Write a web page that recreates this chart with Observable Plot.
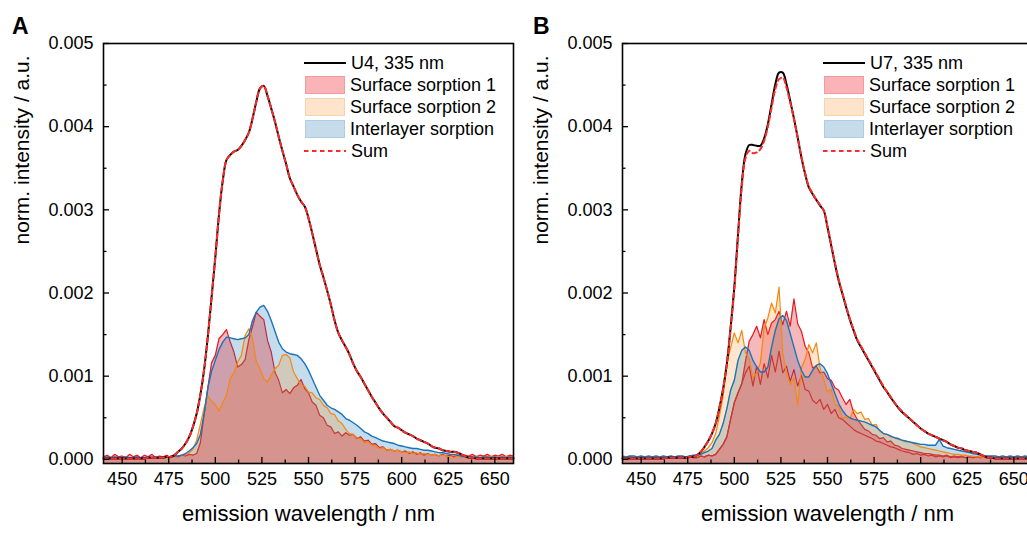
<!DOCTYPE html>
<html><head><meta charset="utf-8">
<script src="https://cdn.jsdelivr.net/npm/d3@7"></script>
<script src="https://cdn.jsdelivr.net/npm/@observablehq/plot@0.6"></script>
<style>
html,body{margin:0;padding:0;background:#fff;overflow:hidden;}
#root{position:relative;width:1027px;height:542px;overflow:hidden;font-family:"Liberation Sans",Arial,sans-serif;color:#000;}
.panel{position:absolute;top:0;width:520px;height:542px;}
.plabel{position:absolute;font-weight:bold;font-size:23px;top:13px;line-height:26px;}
.legend{position:absolute;left:302px;top:52px;font-size:18px;}
.row{position:absolute;left:0;height:22px;display:flex;align-items:center;white-space:nowrap;}
.row svg{margin-left:2px;margin-right:5px;}
.sw{width:40px;height:18px;margin-left:3px;margin-right:5px;box-sizing:border-box;}
</style>
</head><body><div id="root"></div>
<script>
// ---------------- data ----------------
const wl = d3.range(440, 661, 2); // wavelength grid, nm

const panelLabels = ["A", "B"];
const sampleNames = ["U4, 335 nm", "U7, 335 nm"];
const componentNames = ["Surface sorption 1", "Surface sorption 2", "Interlayer sorption", "Sum"];
const xTicks = [450, 475, 500, 525, 550, 575, 600, 625, 650];
const yTicks = [0, 0.001, 0.002, 0.003, 0.004, 0.005];
const xLabel = "emission wavelength / nm";
const yLabel = "norm. intensity / a.u.";

// Panel A
const measA = [
0.00001,0.00001,0.00001,0.00001,0.00001,
0.00001,0.00001,0.00001,0.00001,0.00001,
0.00001,0.00001,0.00002,0.00002,0.00002,
0.00002,0.00002,0.00003,0.00003,0.00005,
0.00009,0.00013,0.00019,0.00027,0.00039,
0.00055,0.00078,0.00108,0.00148,0.00195,
0.00243,0.00295,0.00335,0.00360,0.00366,
0.00370,0.00372,0.00377,0.00384,0.00393,
0.00410,0.00430,0.00446,0.00449,0.00437,
0.00422,0.00406,0.00388,0.00371,0.00355,
0.00338,0.00328,0.00318,0.00310,0.00304,
0.00290,0.00272,0.00253,0.00234,0.00219,
0.00203,0.00186,0.00167,0.00152,0.00143,
0.00135,0.00126,0.00115,0.00106,0.00099,
0.00091,0.00083,0.00075,0.00068,0.00061,
0.00055,0.00050,0.00045,0.00040,0.00038,
0.00035,0.00032,0.00030,0.00028,0.00025,
0.00023,0.00021,0.00019,0.00016,0.00014,
0.00013,0.00011,0.00010,0.00009,0.00009,
0.00008,0.00006,0.00004,0.00002,0.00002,
0.00001,0.00001,0.00001,0.00001,0.00001,
0.00001,0.00001,0.00001,0.00001,0.00001,0.00001];
const sumA = measA.slice(); // the fitted sum lies on the measured curve

const surf1A = [
0.00003,0.00005,0.00002,0.00006,0.00003,
0.00004,0.00002,0.00006,0.00003,0.00005,
0.00002,0.00005,0.00003,0.00006,0.00002,
0.00004,0.00003,0.00005,0.00002,0.00004,
0.00003,0.00005,0.00004,0.00006,0.00005,
0.00007,0.00020,0.00054,0.00086,0.00116,
0.00125,0.00145,0.00150,0.00156,0.00141,
0.00129,0.00111,0.00114,0.00120,0.00144,
0.00160,0.00177,0.00172,0.00168,0.00143,
0.00129,0.00105,0.00095,0.00080,0.00084,
0.00079,0.00086,0.00089,0.00096,0.00085,
0.00080,0.00069,0.00065,0.00053,0.00050,
0.00041,0.00039,0.00031,0.00033,0.00028,
0.00032,0.00029,0.00030,0.00025,0.00027,
0.00022,0.00023,0.00018,0.00019,0.00014,
0.00015,0.00011,0.00012,0.00010,0.00011,
0.00009,0.00010,0.00007,0.00009,0.00006,
0.00008,0.00005,0.00007,0.00005,0.00006,
0.00004,0.00006,0.00004,0.00005,0.00003,
0.00005,0.00003,0.00005,0.00004,0.00006,
0.00003,0.00005,0.00004,0.00006,0.00003,
0.00005,0.00004,0.00006,0.00003,0.00005,0.00004];

const surf2A = [
0.00002,0.00001,0.00003,0.00001,0.00002,
0.00001,0.00003,0.00001,0.00002,0.00001,
0.00002,0.00001,0.00002,0.00001,0.00002,
0.00001,0.00002,0.00002,0.00003,0.00003,
0.00004,0.00005,0.00006,0.00008,0.00012,
0.00023,0.00042,0.00062,0.00076,0.00070,
0.00066,0.00058,0.00068,0.00077,0.00097,
0.00104,0.00117,0.00125,0.00149,0.00157,
0.00145,0.00117,0.00109,0.00097,0.00093,
0.00101,0.00109,0.00113,0.00125,0.00126,
0.00122,0.00105,0.00097,0.00089,0.00088,
0.00081,0.00080,0.00074,0.00072,0.00065,
0.00062,0.00055,0.00054,0.00046,0.00043,
0.00036,0.00031,0.00030,0.00026,0.00025,
0.00020,0.00021,0.00017,0.00016,0.00013,
0.00014,0.00011,0.00012,0.00010,0.00011,
0.00009,0.00008,0.00009,0.00007,0.00008,
0.00006,0.00007,0.00006,0.00005,0.00006,
0.00004,0.00005,0.00004,0.00003,0.00005,
0.00003,0.00004,0.00003,0.00004,0.00002,
0.00004,0.00002,0.00003,0.00002,0.00004,
0.00002,0.00003,0.00002,0.00004,0.00002,0.00003];

const interA = [
0.00002,0.00003,0.00002,0.00003,0.00002,
0.00002,0.00003,0.00002,0.00002,0.00003,
0.00002,0.00002,0.00003,0.00002,0.00003,
0.00002,0.00003,0.00003,0.00003,0.00004,
0.00004,0.00005,0.00007,0.00010,0.00014,
0.00019,0.00030,0.00055,0.00086,0.00106,
0.00119,0.00132,0.00141,0.00147,0.00146,
0.00145,0.00144,0.00145,0.00146,0.00150,
0.00167,0.00177,0.00183,0.00185,0.00178,
0.00167,0.00154,0.00141,0.00133,0.00129,
0.00127,0.00126,0.00125,0.00121,0.00115,
0.00107,0.00097,0.00087,0.00077,0.00071,
0.00065,0.00062,0.00060,0.00057,0.00054,
0.00049,0.00047,0.00044,0.00041,0.00037,
0.00033,0.00031,0.00028,0.00026,0.00024,
0.00022,0.00021,0.00020,0.00019,0.00017,
0.00016,0.00015,0.00014,0.00013,0.00013,
0.00012,0.00011,0.00011,0.00010,0.00009,
0.00008,0.00008,0.00007,0.00006,0.00006,
0.00005,0.00004,0.00003,0.00003,0.00003,
0.00003,0.00002,0.00003,0.00003,0.00002,
0.00003,0.00002,0.00003,0.00002,0.00003,0.00002];

// Panel B
const measB = [
0.00001,0.00001,0.00001,0.00001,0.00001,
0.00001,0.00001,0.00001,0.00001,0.00001,
0.00001,0.00001,0.00002,0.00002,0.00002,
0.00002,0.00002,0.00002,0.00003,0.00003,
0.00005,0.00009,0.00015,0.00022,0.00031,
0.00043,0.00062,0.00085,0.00115,0.00158,
0.00207,0.00271,0.00331,0.00367,0.00378,
0.00378,0.00377,0.00377,0.00386,0.00403,
0.00427,0.00451,0.00465,0.00465,0.00451,
0.00431,0.00410,0.00387,0.00363,0.00343,
0.00327,0.00319,0.00312,0.00305,0.00299,
0.00279,0.00257,0.00235,0.00215,0.00199,
0.00183,0.00168,0.00155,0.00143,0.00135,
0.00127,0.00119,0.00111,0.00103,0.00095,
0.00087,0.00081,0.00074,0.00068,0.00062,
0.00057,0.00053,0.00049,0.00045,0.00041,
0.00037,0.00034,0.00031,0.00029,0.00027,
0.00025,0.00023,0.00021,0.00018,0.00016,
0.00014,0.00013,0.00011,0.00010,0.00009,
0.00008,0.00006,0.00004,0.00002,0.00002,
0.00001,0.00001,0.00001,0.00001,0.00001,
0.00001,0.00001,0.00001,0.00001,0.00001,0.00001];

const sumB = [
0.00001,0.00001,0.00001,0.00001,0.00001,
0.00001,0.00001,0.00001,0.00001,0.00001,
0.00001,0.00001,0.00002,0.00002,0.00002,
0.00002,0.00002,0.00002,0.00003,0.00003,
0.00005,0.00009,0.00015,0.00022,0.00031,
0.00043,0.00062,0.00085,0.00115,0.00157,
0.00205,0.00268,0.00328,0.00362,0.00371,
0.00368,0.00369,0.00373,0.00383,0.00400,
0.00423,0.00445,0.00457,0.00459,0.00447,
0.00429,0.00409,0.00387,0.00364,0.00344,
0.00328,0.00320,0.00312,0.00306,0.00299,
0.00280,0.00258,0.00236,0.00216,0.00200,
0.00184,0.00169,0.00156,0.00144,0.00136,
0.00128,0.00120,0.00112,0.00104,0.00096,
0.00088,0.00081,0.00075,0.00068,0.00062,
0.00058,0.00053,0.00049,0.00045,0.00041,
0.00037,0.00034,0.00031,0.00029,0.00027,
0.00025,0.00023,0.00021,0.00018,0.00016,
0.00014,0.00013,0.00011,0.00010,0.00009,
0.00008,0.00006,0.00004,0.00002,0.00002,
0.00001,0.00001,0.00001,0.00001,0.00001,
0.00001,0.00001,0.00001,0.00001,0.00001,0.00001];

const surf1B = [
0.00002,0.00001,0.00003,0.00002,0.00001,
0.00003,0.00002,0.00001,0.00003,0.00002,
0.00001,0.00002,0.00003,0.00001,0.00002,
0.00003,0.00001,0.00002,0.00003,0.00002,
0.00002,0.00004,0.00003,0.00005,0.00004,
0.00006,0.00012,0.00018,0.00027,0.00048,
0.00068,0.00080,0.00091,0.00118,0.00142,
0.00150,0.00160,0.00146,0.00168,0.00150,
0.00164,0.00168,0.00178,0.00162,0.00178,
0.00160,0.00193,0.00163,0.00154,0.00136,
0.00128,0.00110,0.00112,0.00104,0.00105,
0.00097,0.00095,0.00086,0.00083,0.00074,
0.00066,0.00072,0.00056,0.00048,0.00042,
0.00036,0.00034,0.00030,0.00029,0.00025,
0.00026,0.00021,0.00022,0.00017,0.00016,
0.00013,0.00012,0.00011,0.00010,0.00009,
0.00008,0.00007,0.00007,0.00006,0.00005,
0.00005,0.00004,0.00005,0.00003,0.00004,
0.00003,0.00004,0.00002,0.00003,0.00002,
0.00003,0.00002,0.00003,0.00002,0.00003,
0.00002,0.00003,0.00002,0.00003,0.00002,
0.00003,0.00002,0.00003,0.00002,0.00003,0.00002];

const surf1BLow = [
0.00002,0.00001,0.00003,0.00002,0.00001,
0.00003,0.00002,0.00001,0.00003,0.00002,
0.00001,0.00002,0.00003,0.00001,0.00002,
0.00003,0.00001,0.00002,0.00003,0.00002,
0.00002,0.00004,0.00003,0.00005,0.00004,
0.00006,0.00012,0.00018,0.00027,0.00048,
0.00068,0.00080,0.00091,0.00104,0.00112,
0.00088,0.00112,0.00090,0.00115,0.00098,
0.00125,0.00105,0.00130,0.00104,0.00112,
0.00094,0.00108,0.00088,0.00101,0.00084,
0.00082,0.00071,0.00067,0.00072,0.00060,
0.00066,0.00055,0.00060,0.00050,0.00048,
0.00044,0.00040,0.00036,0.00033,0.00031,
0.00029,0.00027,0.00025,0.00022,0.00021,
0.00019,0.00017,0.00015,0.00014,0.00012,
0.00010,0.00009,0.00008,0.00006,0.00007,
0.00005,0.00006,0.00004,0.00005,0.00003,
0.00004,0.00003,0.00004,0.00002,0.00003,
0.00002,0.00003,0.00002,0.00003,0.00002,
0.00003,0.00002,0.00003,0.00002,0.00003,
0.00002,0.00003,0.00002,0.00003,0.00002,
0.00003,0.00002,0.00003,0.00002,0.00003,0.00002];

const surf2B = [
0.00002,0.00001,0.00002,0.00001,0.00002,
0.00001,0.00002,0.00001,0.00002,0.00001,
0.00002,0.00001,0.00002,0.00002,0.00001,
0.00002,0.00002,0.00003,0.00003,0.00004,
0.00005,0.00007,0.00010,0.00014,0.00020,
0.00031,0.00052,0.00076,0.00115,0.00134,
0.00152,0.00140,0.00155,0.00128,0.00121,
0.00098,0.00104,0.00116,0.00158,0.00170,
0.00188,0.00176,0.00207,0.00128,0.00104,
0.00090,0.00098,0.00065,0.00110,0.00120,
0.00138,0.00128,0.00140,0.00110,0.00096,
0.00081,0.00084,0.00066,0.00064,0.00050,
0.00051,0.00049,0.00060,0.00055,0.00057,
0.00048,0.00049,0.00041,0.00042,0.00034,
0.00031,0.00030,0.00027,0.00026,0.00024,
0.00023,0.00021,0.00021,0.00019,0.00017,
0.00015,0.00014,0.00013,0.00012,0.00011,
0.00010,0.00009,0.00008,0.00007,0.00006,
0.00006,0.00005,0.00005,0.00004,0.00004,
0.00003,0.00003,0.00002,0.00003,0.00002,
0.00002,0.00003,0.00002,0.00002,0.00003,
0.00002,0.00002,0.00003,0.00002,0.00002,0.00003];

const interB = [
0.00004,0.00003,0.00004,0.00004,0.00003,
0.00004,0.00003,0.00004,0.00003,0.00004,
0.00003,0.00004,0.00003,0.00004,0.00003,
0.00004,0.00004,0.00003,0.00004,0.00005,
0.00005,0.00006,0.00008,0.00010,0.00013,
0.00023,0.00030,0.00043,0.00061,0.00083,
0.00095,0.00119,0.00131,0.00135,0.00131,
0.00119,0.00111,0.00105,0.00105,0.00111,
0.00135,0.00155,0.00169,0.00173,0.00167,
0.00151,0.00135,0.00119,0.00107,0.00099,
0.00099,0.00107,0.00113,0.00115,0.00111,
0.00103,0.00091,0.00079,0.00067,0.00059,
0.00053,0.00050,0.00048,0.00047,0.00046,
0.00045,0.00043,0.00041,0.00039,0.00035,
0.00031,0.00030,0.00028,0.00026,0.00025,
0.00023,0.00022,0.00021,0.00020,0.00019,
0.00018,0.00018,0.00017,0.00017,0.00017,
0.00024,0.00016,0.00014,0.00013,0.00012,
0.00011,0.00010,0.00009,0.00008,0.00007,
0.00006,0.00005,0.00004,0.00004,0.00004,
0.00004,0.00003,0.00004,0.00003,0.00004,
0.00003,0.00004,0.00003,0.00004,0.00003,0.00004];

// ---------------- styles ----------------
const xDomain = [440, 660];
const yDomain = [-0.00005, 0.005];
const W = 520, H = 542, MT = 43, MB = 79, ML = 103, MR = 7;
const plotH = H - MT - MB, plotW = W - ML - MR;
const RED = "#e8141e", ORANGE = "#f5880f", BLUE = "#1a74b9";
const RED_FILL = "rgb(225,40,50)", ORANGE_FILL = "rgb(255,128,0)", BLUE_FILL = "rgb(31,119,180)";
const minorX = d3.range(462.5, 650, 25);
const minorY = [0.0005, 0.0015, 0.0025, 0.0035, 0.0045];

function panel(p) {
  const rows = wl.map((w, i) => ({
    wl: w, meas: p.meas[i], sum: p.sum[i], s1: p.s1[i], s2: p.s2[i], il: p.il[i],
    s1low: p.s1low ? p.s1low[i] : null
  }));
  const marks = [];
  if (p.s1low) marks.push(Plot.line(rows, {x: "wl", y: "s1low", stroke: RED, strokeWidth: 1.2}));
  marks.push(
    Plot.line(rows, {x: "wl", y: "s1", stroke: RED, strokeWidth: 1.2}),
    Plot.areaY(rows, {x: "wl", y1: yDomain[0], y2: "il", fill: BLUE_FILL, fillOpacity: 0.26}),
    Plot.areaY(rows, {x: "wl", y1: yDomain[0], y2: "s2", fill: ORANGE_FILL, fillOpacity: 0.2}),
    Plot.areaY(rows, {x: "wl", y1: yDomain[0], y2: "s1", fill: RED_FILL, fillOpacity: 0.33}),
    Plot.line(rows, {x: "wl", y: "s2", stroke: ORANGE, strokeWidth: 1.2}),
    Plot.line(rows, {x: "wl", y: "il", stroke: BLUE, strokeWidth: 1.4}),
    Plot.line(rows, {x: "wl", y: "meas", stroke: "#000", strokeWidth: 2, curve: "catmull-rom"}),
    Plot.line(rows, {x: "wl", y: "sum", stroke: "#ff2a2a", strokeWidth: 2, strokeDasharray: "4.5,3.5", curve: "catmull-rom"}),
    Plot.ruleX(xTicks, {stroke: "#000", strokeWidth: 1.3, insetTop: plotH - 6}),
    Plot.ruleX(minorX, {stroke: "#000", strokeWidth: 1.3, insetTop: plotH - 3.5}),
    Plot.ruleY(yTicks, {stroke: "#000", strokeWidth: 1.3, insetRight: plotW - 6}),
    Plot.ruleY(minorY, {stroke: "#000", strokeWidth: 1.3, insetRight: plotW - 3.5}),
    Plot.frame({stroke: "#000", strokeWidth: 1.6}),
    Plot.axisX(xTicks, {tickSize: 0, tickPadding: 9, fontSize: 18, label: null, tickFormat: d => String(d)}),
    Plot.axisY(yTicks, {tickSize: 0, tickPadding: 10, fontSize: 18, label: null, tickFormat: d3.format(".3f")}),
    Plot.text([xLabel], {text: d => d, frameAnchor: "bottom", dy: 50, fontSize: 22, lineAnchor: "middle"}),
    Plot.text([yLabel], {text: d => d, frameAnchor: "left", dx: -81, dy: -9, rotate: -90, fontSize: 21, lineAnchor: "middle"})
  );
  return Plot.plot({
    width: W, height: H, marginTop: MT, marginBottom: MB, marginLeft: ML, marginRight: MR,
    x: {domain: xDomain}, y: {domain: yDomain},
    style: {fontFamily: '"Liberation Sans", Arial, sans-serif', color: "#000", background: "transparent", overflow: "visible"},
    marks
  });
}

function legend(sampleName) {
  const lg = document.createElement("div");
  lg.className = "legend";
  const items = [
    {t: sampleName, kind: "line", c: "#000"},
    {t: componentNames[0], kind: "box", bg: "#fab3b7", bd: "#f29aa2"},
    {t: componentNames[1], kind: "box", bg: "#fde4cb", bd: "#f7d2ae"},
    {t: componentNames[2], kind: "box", bg: "#c6dcea", bd: "#b0cde0"},
    {t: componentNames[3], kind: "dash", c: "#ff2a2a"}
  ];
  items.forEach((it, i) => {
    const r = document.createElement("div");
    r.className = "row";
    r.style.top = (i * 22) + "px";
    if (it.kind === "box") {
      const s = document.createElement("div");
      s.className = "sw";
      s.style.background = it.bg;
      s.style.border = "1px solid " + it.bd;
      r.appendChild(s);
    } else {
      const ns = "http://www.w3.org/2000/svg";
      const s = document.createElementNS(ns, "svg");
      s.setAttribute("width", "42"); s.setAttribute("height", "6");
      const l = document.createElementNS(ns, "line");
      l.setAttribute("x1", "0"); l.setAttribute("x2", "42");
      l.setAttribute("y1", "3"); l.setAttribute("y2", "3");
      l.setAttribute("stroke", it.c); l.setAttribute("stroke-width", "2");
      if (it.kind === "dash") l.setAttribute("stroke-dasharray", "4.5,3.5");
      s.appendChild(l);
      r.appendChild(s);
    }
    const tx = document.createElement("span");
    tx.textContent = it.t;
    r.appendChild(tx);
    lg.appendChild(r);
  });
  return lg;
}

const root = document.getElementById("root");
const panels = [
  {left: 0, labelLeft: 12, meas: measA, sum: sumA, s1: surf1A, s2: surf2A, il: interA, name: sampleNames[0], label: panelLabels[0]},
  {left: 519, labelLeft: 14, meas: measB, sum: sumB, s1: surf1B, s1low: surf1BLow, s2: surf2B, il: interB, name: sampleNames[1], label: panelLabels[1]}
];
panels.forEach(p => {
  const div = document.createElement("div");
  div.className = "panel";
  div.style.left = p.left + "px";
  div.appendChild(panel(p));
  div.appendChild(legend(p.name));
  const lab = document.createElement("div");
  lab.className = "plabel";
  lab.style.left = p.labelLeft + "px";
  lab.textContent = p.label;
  div.appendChild(lab);
  root.appendChild(div);
});
</script>
</body></html>
